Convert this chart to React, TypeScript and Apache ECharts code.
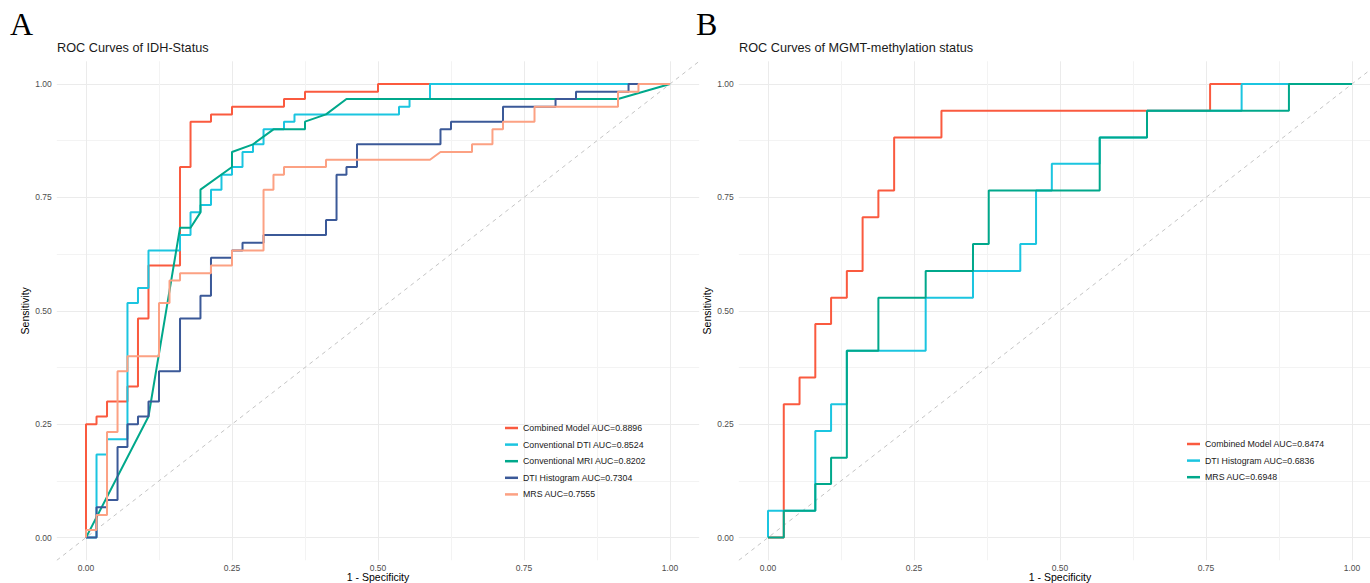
import React, { useEffect, useRef } from "react";
import * as echarts from "echarts";

// ---------- Panel A: IDH-Status ----------
const leftTitle = "ROC Curves of IDH-Status";
const leftNames = [
  "Combined Model AUC=0.8896",
  "Conventional DTI AUC=0.8524",
  "Conventional MRI AUC=0.8202",
  "DTI Histogram AUC=0.7304",
  "MRS AUC=0.7555",
];
const leftColors = ["#FA5A3F", "#1BC5E0", "#00A88B", "#3B5998", "#FCA183"];

const leftCombined = [[0,0],[0,0.25],[0.018,0.25],[0.018,0.267],[0.036,0.267],[0.036,0.3],[0.071,0.3],[0.071,0.333],[0.089,0.333],[0.089,0.483],[0.107,0.483],[0.107,0.6],[0.161,0.6],[0.161,0.817],[0.179,0.817],[0.179,0.917],[0.214,0.917],[0.214,0.933],[0.25,0.933],[0.25,0.95],[0.339,0.95],[0.339,0.967],[0.375,0.967],[0.375,0.983],[0.5,0.983],[0.5,1],[1,1]];
const leftConvDTI = [[0,0],[0.018,0],[0.018,0.183],[0.036,0.183],[0.036,0.217],[0.071,0.217],[0.071,0.517],[0.089,0.517],[0.089,0.55],[0.107,0.55],[0.107,0.633],[0.161,0.633],[0.161,0.667],[0.179,0.667],[0.179,0.717],[0.196,0.717],[0.196,0.733],[0.214,0.733],[0.214,0.767],[0.232,0.767],[0.232,0.8],[0.25,0.8],[0.25,0.817],[0.268,0.817],[0.268,0.85],[0.286,0.85],[0.286,0.867],[0.304,0.867],[0.304,0.9],[0.339,0.9],[0.339,0.917],[0.357,0.917],[0.357,0.933],[0.536,0.933],[0.536,0.95],[0.554,0.95],[0.554,0.967],[0.589,0.967],[0.589,1],[1,1]];
const leftConvMRI = [[0,0],[0.107,0.267],[0.161,0.683],[0.179,0.683],[0.196,0.717],[0.196,0.767],[0.25,0.817],[0.25,0.85],[0.286,0.867],[0.321,0.9],[0.375,0.9],[0.375,0.917],[0.411,0.933],[0.446,0.967],[0.911,0.967],[1,1]];
const leftDTIHist = [[0,0],[0.018,0],[0.018,0.067],[0.036,0.067],[0.036,0.083],[0.054,0.083],[0.054,0.2],[0.071,0.2],[0.071,0.25],[0.089,0.25],[0.089,0.267],[0.107,0.267],[0.107,0.3],[0.125,0.3],[0.125,0.367],[0.161,0.367],[0.161,0.483],[0.196,0.483],[0.196,0.533],[0.214,0.533],[0.214,0.617],[0.25,0.617],[0.25,0.633],[0.268,0.633],[0.268,0.65],[0.304,0.65],[0.304,0.667],[0.411,0.667],[0.411,0.7],[0.429,0.7],[0.429,0.8],[0.446,0.8],[0.446,0.817],[0.464,0.817],[0.464,0.867],[0.607,0.867],[0.607,0.9],[0.625,0.9],[0.625,0.917],[0.714,0.917],[0.714,0.95],[0.804,0.95],[0.804,0.967],[0.839,0.967],[0.839,0.983],[0.929,0.983],[0.929,1],[1,1]];
const leftMRS = [[0,0],[0,0.017],[0.018,0.017],[0.018,0.05],[0.036,0.05],[0.036,0.233],[0.054,0.233],[0.054,0.367],[0.071,0.367],[0.071,0.4],[0.125,0.4],[0.125,0.517],[0.143,0.517],[0.143,0.567],[0.161,0.567],[0.161,0.583],[0.214,0.583],[0.214,0.6],[0.25,0.6],[0.25,0.633],[0.304,0.633],[0.304,0.767],[0.321,0.767],[0.321,0.8],[0.339,0.8],[0.339,0.817],[0.411,0.817],[0.411,0.833],[0.589,0.833],[0.607,0.85],[0.661,0.85],[0.661,0.867],[0.696,0.867],[0.696,0.9],[0.714,0.9],[0.714,0.917],[0.768,0.917],[0.768,0.95],[0.911,0.95],[0.911,0.983],[0.946,0.983],[0.946,1],[1,1]];
const leftCurves = [leftCombined, leftConvDTI, leftConvMRI, leftDTIHist, leftMRS];

// ---------- Panel B: MGMT-methylation ----------
const rightTitle = "ROC Curves of MGMT-methylation status";
const rightNames = [
  "Combined Model AUC=0.8474",
  "DTI Histogram AUC=0.6836",
  "MRS AUC=0.6948",
];
const rightColors = ["#FA5A3F", "#1BC5E0", "#00A88B"];

const rightCombined = [[0,0],[0.027,0],[0.027,0.294],[0.054,0.294],[0.054,0.353],[0.081,0.353],[0.081,0.471],[0.108,0.471],[0.108,0.529],[0.135,0.529],[0.135,0.588],[0.162,0.588],[0.162,0.706],[0.189,0.706],[0.189,0.765],[0.216,0.765],[0.216,0.882],[0.297,0.882],[0.297,0.941],[0.757,0.941],[0.757,1],[1,1]];
const rightDTIHist = [[0,0],[0,0.059],[0.081,0.059],[0.081,0.235],[0.108,0.235],[0.108,0.294],[0.135,0.294],[0.135,0.412],[0.27,0.412],[0.27,0.529],[0.351,0.529],[0.351,0.588],[0.432,0.588],[0.432,0.647],[0.459,0.647],[0.459,0.765],[0.486,0.765],[0.486,0.824],[0.568,0.824],[0.568,0.882],[0.649,0.882],[0.649,0.941],[0.811,0.941],[0.811,1],[1,1]];
const rightMRS = [[0,0],[0.027,0],[0.027,0.059],[0.081,0.059],[0.081,0.118],[0.108,0.118],[0.108,0.176],[0.135,0.176],[0.135,0.412],[0.189,0.412],[0.189,0.529],[0.27,0.529],[0.27,0.588],[0.351,0.588],[0.351,0.647],[0.378,0.647],[0.378,0.765],[0.568,0.765],[0.568,0.882],[0.649,0.882],[0.649,0.941],[0.892,0.941],[0.892,1],[1,1]];
const rightCurves = [rightCombined, rightDTIHist, rightMRS];

const referenceLine = [[-0.05, -0.05], [1.05, 1.05]];
const axisMin = -0.05;
const axisMax = 1.05;
const gridValues = [0, 0.125, 0.25, 0.375, 0.5, 0.625, 0.75, 0.875, 1];
const labelValues = [0, 0.25, 0.5, 0.75, 1];

const FONT = "'Liberation Sans', Arial, Helvetica, sans-serif";

function makeAxis(gridIndex: number, isX: boolean) {
  return {
    type: "value",
    gridIndex,
    min: axisMin,
    max: axisMax,
    axisLine: { show: false },
    axisTick: { show: false, customValues: gridValues },
    axisLabel: {
      customValues: labelValues,
      formatter: (v: number) => v.toFixed(2),
      color: "#4D4D4D",
      fontSize: 8.5,
      fontFamily: FONT,
      margin: isX ? 3.5 : 5,
    },
    splitLine: {
      show: true,
      lineStyle: { color: ["#EBEBEB", "#F3F3F3"], width: 1 },
    },
    name: isX ? "1 - Specificity" : "Sensitivity",
    nameLocation: "middle",
    nameGap: isX ? 10.5 : 26,
    nameMoveOverlap: false,
    nameTextStyle: { color: "#000", fontSize: 10.5, fontFamily: FONT, lineHeight: 12 },
  };
}

function legendFor(names: string[], left: number, top: number) {
  return {
    data: names,
    left,
    top,
    orient: "vertical",
    icon: "rect",
    itemWidth: 13,
    itemHeight: 2.5,
    itemGap: 4.6,
    padding: 0,
    selectedMode: false,
    textStyle: { fontSize: 8.8, color: "#1A1A1A", fontFamily: FONT, lineHeight: 12 },
  };
}

export default function App() {
  const ref = useRef<HTMLDivElement>(null);
  useEffect(() => {
    if (!ref.current) return;
    const chart = echarts.init(ref.current, undefined, { renderer: "svg" });
    const series: any[] = [];
    [0, 1].forEach((g) => {
      series.push({
        type: "line",
        xAxisIndex: g,
        yAxisIndex: g,
        data: referenceLine,
        symbol: "none",
        silent: true,
        z: 1,
        lineStyle: { color: "#C4C4C4", width: 1, type: [4, 4] },
      });
    });
    leftCurves.forEach((d, i) => {
      series.push({
        type: "line",
        name: leftNames[i],
        xAxisIndex: 0,
        yAxisIndex: 0,
        data: d,
        symbol: "none",
        color: leftColors[i],
        z: 2 + i,
        lineStyle: { color: leftColors[i], width: 2 },
      });
    });
    rightCurves.forEach((d, i) => {
      series.push({
        type: "line",
        name: rightNames[i],
        xAxisIndex: 1,
        yAxisIndex: 1,
        data: d,
        symbol: "none",
        color: rightColors[i],
        z: 2 + i,
        lineStyle: { color: rightColors[i], width: 2 },
      });
    });
    chart.setOption({
      animation: false,
      backgroundColor: "#FFFFFF",
      textStyle: { fontFamily: FONT },
      title: [
        { text: "A", left: 10, top: 8, padding: 0, textStyle: { fontFamily: "'Liberation Serif', 'Times New Roman', serif", fontSize: 32, fontWeight: "normal", color: "#000" } },
        { text: "B", left: 696, top: 8, padding: 0, textStyle: { fontFamily: "'Liberation Serif', 'Times New Roman', serif", fontSize: 32, fontWeight: "normal", color: "#000" } },
        { text: leftTitle, left: 57, top: 41, padding: 0, textStyle: { fontFamily: FONT, fontSize: 12.7, fontWeight: "normal", color: "#1A1A1A" } },
        { text: rightTitle, left: 739, top: 41, padding: 0, textStyle: { fontFamily: FONT, fontSize: 12.7, fontWeight: "normal", color: "#1A1A1A" } },
      ],
      legend: [legendFor(leftNames, 505, 422), legendFor(rightNames, 1187, 438)],
      grid: [
        { left: 56.8, top: 61.3, width: 642.4, height: 499, containLabel: false, outerBoundsMode: "none" },
        { left: 738.8, top: 61.3, width: 642.4, height: 499, containLabel: false, outerBoundsMode: "none" },
      ],
      xAxis: [makeAxis(0, true), makeAxis(1, true)],
      yAxis: [makeAxis(0, false), makeAxis(1, false)],
      series,
    });
    return () => chart.dispose();
  }, []);
  return (
    <div
      ref={ref}
      style={{ position: "absolute", left: 0, top: 0, width: 1370, height: 583, background: "#fff" }}
    />
  );
}
